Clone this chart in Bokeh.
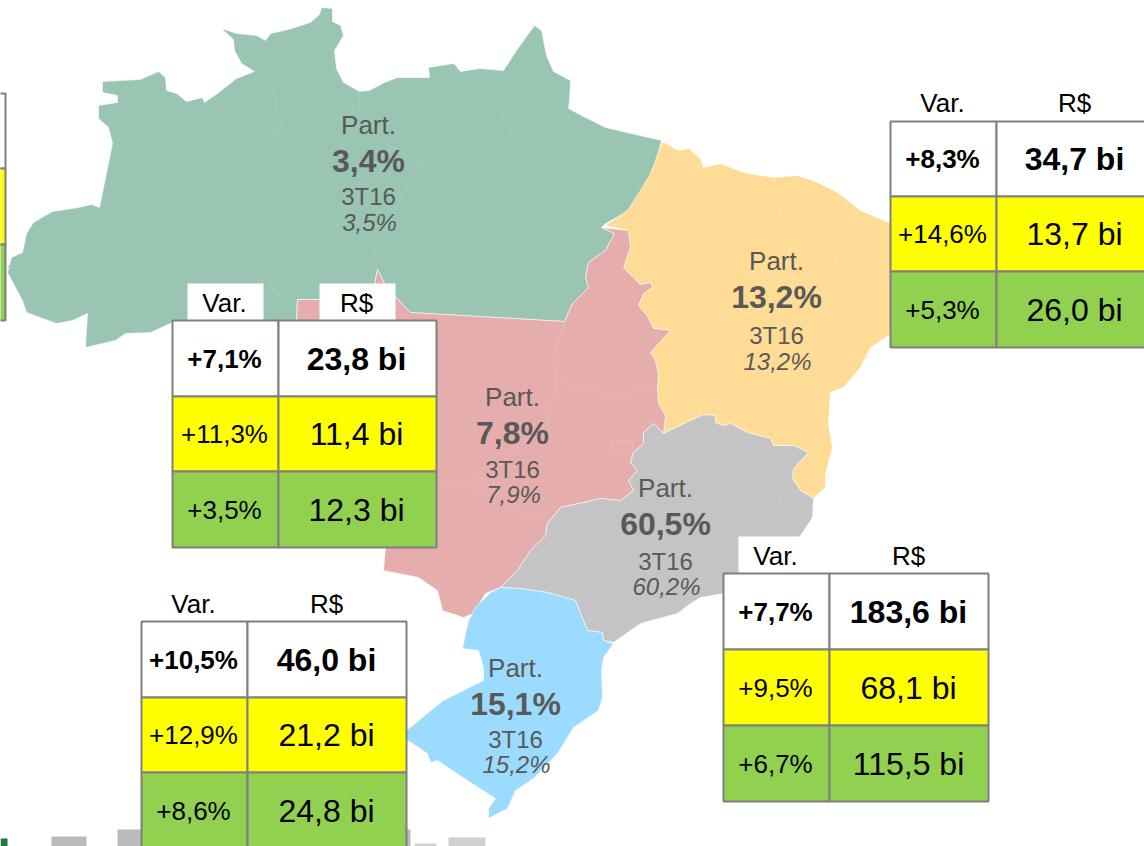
from bokeh.plotting import figure
from bokeh.models import Range1d
from bokeh.core.properties import value
from bokeh.embed import file_html
from bokeh.resources import INLINE

FONT = value("Liberation Sans")

# ---- regions (outlines, image pixel coordinates)
north = [(102,81),(140,79),(158,71),(165,77),(166,90),(176,93),(186,101),(202,97),(204,102),(217,93),(236,78),(254,71),(241,63),(234,50),(233,39),(221,28),(236,33),(256,35),(265,40),(270,33),(288,29),(310,22),(319,14),(321,7),(332,8),(332,21),(340,25),(343,35),(334,50),(336,68),(343,82),(359,91),(369,90),(384,82),(397,77),(429,77),(428,67),(453,63),(460,71),(479,68),(503,70),(516,50),(534,25),(541,30),(546,55),(553,71),(570,80),(569,100),(568,108),(581,115),(605,127),(661,140),(653,173),(629,210),(605,223),(601,227),(614,233),(605,250),(588,262),(585,277),(588,287),(572,303),(564,321),(410,312),(401,303),(384,283),(377,269),(371,299),(297,299),(296,320),(172,322),(150,332),(125,333),(115,340),(85,347),(87,313),(72,320),(56,323),(26,312),(22,300),(7,272),(11,257),(22,252),(26,233),(33,222),(52,211),(78,207),(91,204),(99,207),(112,143),(108,127),(98,118),(98,105),(117,102),(117,95),(102,92)]
northeast = [(662,141),(678,150),(688,148),(700,158),(703,167),(720,163),(743,172),(773,177),(797,175),(817,182),(837,192),(860,210),(888,222),(900,225),(900,333),(888,335),(870,347),(860,367),(843,387),(830,392),(828,423),(832,447),(825,473),(825,487),(813,498),(800,490),(792,478),(793,468),(808,452),(793,445),(773,445),(770,438),(747,432),(730,423),(722,425),(715,422),(715,415),(703,414),(690,420),(663,433),(665,415),(658,403),(657,387),(658,375),(655,360),(650,352),(670,330),(653,328),(648,317),(638,305),(643,293),(652,287),(650,282),(640,284),(623,267),(630,247),(628,230),(605,225),(627,210),(640,190),(650,173)]
midwest = [(601,227),(628,230),(630,247),(623,267),(640,284),(650,282),(652,287),(643,293),(638,305),(648,317),(653,328),(670,330),(650,352),(655,360),(658,375),(657,387),(658,403),(665,415),(663,433),(653,423),(643,432),(643,443),(633,452),(630,462),(637,470),(628,480),(633,490),(620,500),(600,498),(583,502),(560,507),(547,523),(545,535),(530,550),(517,570),(500,587),(485,593),(473,613),(463,617),(442,610),(437,590),(418,577),(383,570),(385,547),(300,500),(296,320),(297,299),(371,299),(377,269),(384,283),(401,303),(410,312),(564,321),(572,303),(588,287),(585,277),(588,262),(605,250),(614,233)]
southeast = [(663,433),(690,420),(703,414),(715,415),(715,422),(722,425),(730,423),(747,432),(770,438),(773,445),(793,445),(808,452),(793,468),(792,478),(800,490),(813,498),(812,517),(800,535),(760,570),(723,593),(700,597),(690,603),(677,613),(640,623),(613,642),(603,640),(602,632),(587,630),(580,613),(575,600),(547,592),(520,588),(500,587),(517,570),(530,550),(545,535),(547,523),(560,507),(583,502),(600,498),(620,500),(633,490),(628,480),(637,470),(630,462),(633,452),(643,443),(643,432),(653,423)]
south = [(500,587),(520,588),(547,592),(575,600),(580,613),(587,630),(602,632),(603,640),(613,643),(603,657),(601,670),(602,697),(598,710),(573,727),(557,753),(533,778),(515,790),(507,808),(488,818),(488,808),(495,798),(467,780),(437,760),(430,762),(427,753),(400,735),(428,712),(443,700),(483,680),(483,667),(478,650),(462,648),(468,620),(475,607),(490,592)]

# state borders inside the regions
north_borders = [
    [(7,265),(35,275),(89,286),(169,320)],
    [(256,71),(269,75),(275,97),(275,110),(282,125),(275,132),(288,145),(299,148),(297,133),(308,127),(319,135),(325,130),(333,110),(359,110),(359,91)],
    [(359,110),(369,133),(403,153),(412,163),(425,159),(416,170),(371,255),(377,269)],
    [(455,65),(457,78),(486,88),(494,103),(512,137),(527,140),(542,120),(559,103),(569,100)],
    [(267,283),(282,298),(295,300)],
]
northeast_borders = [
    [(763,175),(752,187),(738,200),(733,240),(737,257),(713,257),(680,273),(667,300),(675,330),(687,343),(713,330),(723,312),(750,312),(790,305)],
    [(773,177),(778,207),(785,230),(792,277),(790,305)],
    [(790,305),(817,293),(847,307),(888,330)],
    [(860,220),(837,250),(835,263),(827,278),(792,277)],
    [(837,277),(875,270),(888,280)],
    [(847,310),(855,327),(847,343),(867,357)],
]
midwest_borders = [
    [(565,322),(553,353),(557,383),(550,407),(547,423),(510,453),(493,473),(493,492)],
    [(562,382),(587,387),(603,392),(623,395),(653,385)],
    [(438,480),(460,483),(482,477),(477,490),(493,492),(510,507),(547,522)],
    [(612,440),(632,440),(633,450),(610,452),(612,440)],
]
southeast_borders = [
    [(547,532),(587,533),(593,542),(633,535),(637,547),(650,575),(665,590)],
    [(700,583),(725,577)],
    [(780,497),(797,490)],
    [(780,497),(777,510),(783,517),(777,537)],
]
south_borders = [
    [(603,658),(580,663),(557,658),(543,667)],
    [(483,683),(517,685),(540,697),(575,712),(567,727)],
]

region_shapes = [north, northeast, midwest, southeast, south]
region_borders = [north_borders, northeast_borders, midwest_borders, southeast_borders, south_borders]
region_colors = ["#9AC5B3", "#FFDC96", "#E6ADAD", "#C4C4C4", "#9BDBFF"]
border_colors = ["#A3CABA", "#FFE1A5", "#E9B6B6", "#CBCBCB", "#A5DFFF"]

# ---- region labels
part_now = ["3,4%", "13,2%", "7,8%", "60,5%", "15,1%"]
part_prev = ["3,5%", "13,2%", "7,9%", "60,2%", "15,2%"]
label_x = [368, 776, 512, 665, 515]
label_y = [[124, 160, 196, 222], [260, 296, 335, 361], [396, 432, 469, 494], [487, 523, 561, 586], [667, 703, 739, 764]]

# ---- tables
table_var = [["+8,3%", "+14,6%", "+5,3%"], ["+7,1%", "+11,3%", "+3,5%"], ["+7,7%", "+9,5%", "+6,7%"], ["+10,5%", "+12,9%", "+8,6%"]]
table_val = [["34,7 bi", "13,7 bi", "26,0 bi"], ["23,8 bi", "11,4 bi", "12,3 bi"], ["183,6 bi", "68,1 bi", "115,5 bi"], ["46,0 bi", "21,2 bi", "24,8 bi"]]
table_cols = [(890, 996, 1150), (172, 278, 436), (723, 829, 988), (141, 247, 406)]
table_rows = [(121, 196, 271, 347), (320, 396, 471, 547), (573, 649, 725, 801), (621, 697, 772, 848)]
table_text_x = [(942, 1074), (224, 356), (775, 908), (193, 326)]
table_head_y = [102, 302, 555, 603]
header_boxes = [(187, 263, 283, 320), (319, 395, 283, 320), (738, 815, 536, 573)]
row_colors = ["#FFFFFF", "#FFFF00", "#92D050"]
stub_rows = (93, 168, 244, 320)
stub_cols = (-6, 5)

# ---- bits of the next slide peeking in at the bottom
foot_left = [0, 51, 117, 406, 414, 448]
foot_right = [7, 86, 141, 410, 436, 485]
foot_top = [838, 836, 829, 829, 843, 837]
foot_colors = ["#1A7A40", "#BBBBBE", "#BBBBBE", "#BBBBBE", "#D0D0D0", "#D0D0D0"]

p = figure(width=1144, height=846, output_backend="svg", toolbar_location=None,
           x_range=Range1d(0, 1144), y_range=Range1d(846, 0), min_border=0,
           background_fill_color="#FFFFFF", border_fill_color="#FFFFFF")
p.xaxis.visible = False
p.yaxis.visible = False
p.grid.visible = False
p.outline_line_color = None

# footer
p.quad(left=foot_left, right=foot_right, top=foot_top, bottom=[846] * len(foot_top),
       fill_color=foot_colors, line_color=None)

# regions
for shape, color in zip(region_shapes, region_colors):
    p.patch([c[0] for c in shape], [c[1] for c in shape], fill_color=color,
            line_color="#FFFFFF", line_width=0.8, line_alpha=0.7)
for lines, color in zip(region_borders, border_colors):
    p.multi_line([[c[0] for c in l] for l in lines], [[c[1] for c in l] for l in lines],
                 line_color=color, line_width=1.2)

# region labels
TXT = "#595959"
def txt(x, y, t, size, color="#000000", style="normal"):
    p.text([x], [y], text=[t], text_font=FONT, text_font_size=size, text_color=color,
           text_font_style=style, text_align="center", text_baseline="middle")

for x, ys, now, prev in zip(label_x, label_y, part_now, part_prev):
    txt(x, ys[0], "Part.", "26px", TXT)
    txt(x, ys[1], now, "32px", TXT, "bold")
    txt(x, ys[2], "3T16", "24px", TXT)
    txt(x + 1, ys[3], prev, "24px", TXT, "italic")

# white boxes behind the header texts
p.quad(left=[b[0] for b in header_boxes], right=[b[1] for b in header_boxes],
       top=[b[2] for b in header_boxes], bottom=[b[3] for b in header_boxes],
       fill_color="#FFFFFF", line_color=None)

BORDER = "#7F7F7F"
# table cut off at the left edge
for i in range(3):
    p.quad(left=[stub_cols[0]], right=[stub_cols[1]], top=[stub_rows[i]], bottom=[stub_rows[i + 1]],
           fill_color=row_colors[i], line_color=BORDER, line_width=2)

for cols, rows, tx, hy, var, val in zip(table_cols, table_rows, table_text_x, table_head_y, table_var, table_val):
    txt(tx[0], hy, "Var.", "26px")
    txt(tx[1], hy, "R$", "26px")
    for i in range(3):
        for c in range(2):
            p.quad(left=[cols[c]], right=[cols[c + 1]], top=[rows[i]], bottom=[rows[i + 1]],
                   fill_color=row_colors[i], line_color=BORDER, line_width=2)
        ym = (rows[i] + rows[i + 1]) / 2
        style = "bold" if i == 0 else "normal"
        txt(tx[0], ym, var[i], "26px", "#000000", style)
        txt(tx[1], ym, val[i], "32px", "#000000", style)

open("out.html", "w").write(file_html(p, INLINE))
